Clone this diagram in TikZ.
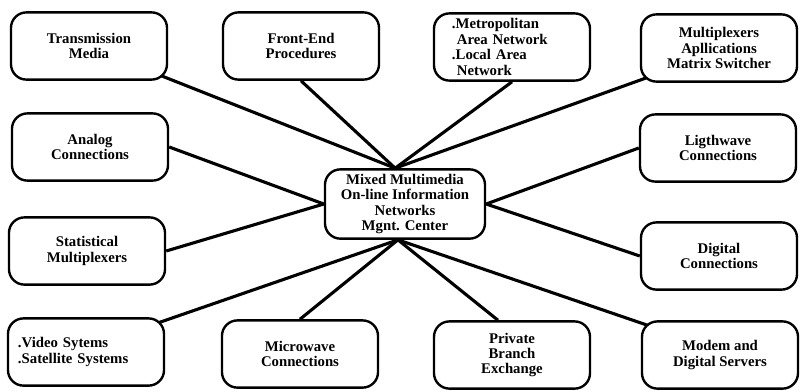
\documentclass[tikz,border=0pt]{standalone}
\usepackage{fontspec}
\setmainfont{Liberation Serif}
\usetikzlibrary{positioning, backgrounds}

\begin{document}
\begin{tikzpicture}[x=0.025cm, y=-0.025cm,
  box/.style={draw=black, line width=1.7pt, rounded corners=11pt, align=center,
              font=\fontsize{10.5}{11}\selectfont\bfseries,
              minimum width=3.9cm, minimum height=1.68cm, fill=white},
  lbox/.style={box, align=left, text width=3.0cm},
  link/.style={line width=2.2pt, black}]
\useasboundingbox (0,0) rectangle (801,391);
% hub
\node[box, minimum width=4cm] (hub) at (405,204)
  {Mixed Multimedia\\On-line Information\\Networks\\Mgnt. Center};
% top row
\node[box] (tm) at (89,46) {Transmission\\Media};
\node[box] (fe) at (301,46) {Front-End\\Procedures};
\node[lbox] (ma) at (512,47) {.Metropolitan\\\ Area Network\\.Local Area\\\ Network};
\node[box] (mx) at (719,48) {Multiplexers\\Apllications\\Matrix Switcher};
% middle rows
\node[box] (an) at (90,147) {Analog\\Connections};
\node[box] (lw) at (718,148) {Ligthwave\\Connections};
\node[box] (sm) at (87,251) {Statistical\\Multiplexers};
\node[box] (dg) at (719,256) {Digital\\Connections};
% bottom row
\node[lbox, text width=3.4cm] (vs) at (86,352) {.Video Sytems\\.Satellite Systems};
\node[box] (mw) at (300,354) {Microwave\\Connections};
\node[box] (pb) at (512,355) {Private\\Branch\\Exchange};
\node[box] (md) at (720,355) {Modem and\\Digital Servers};
% links to the hub
\begin{scope}[on background layer]
\draw[link] ([shift={(-6pt,4pt)}]tm.south east) -- ([xshift=-7pt]hub.north);
\draw[link] (fe.south) -- ([xshift=-7pt]hub.north);
\draw[link] (ma.south) -- ([xshift=-7pt]hub.north);
\draw[link] ([shift={(6pt,4pt)}]mx.south west) -- ([xshift=-7pt]hub.north);
\draw[link] (an.east) -- (hub.west);
\draw[link] (sm.east) -- (hub.west);
\draw[link] (lw.west) -- (hub.east);
\draw[link] (dg.west) -- (hub.east);
\draw[link] ([shift={(-5pt,-4pt)}]vs.north east) -- ([xshift=-5pt]hub.south);
\draw[link] (mw.north) -- ([xshift=-5pt]hub.south);
\draw[link] ([xshift=-10pt]pb.north) -- ([xshift=-5pt]hub.south);
\draw[link] ([shift={(6pt,-4pt)}]md.north west) -- ([xshift=-5pt]hub.south);
\end{scope}
\end{tikzpicture}
\end{document}
